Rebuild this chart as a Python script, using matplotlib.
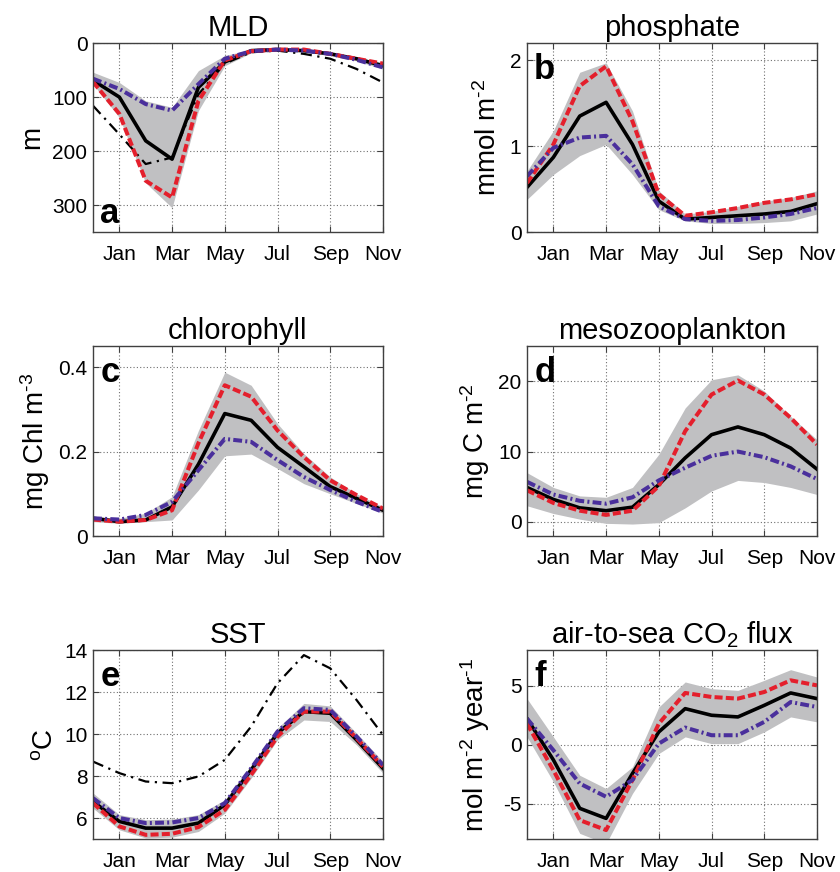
import numpy as np
import matplotlib
matplotlib.use('Agg')
import matplotlib.pyplot as plt

plt.rcParams['font.family'] = ['Liberation Sans', 'DejaVu Sans']
plt.rcParams['mathtext.fontset'] = 'custom'
plt.rcParams['mathtext.rm'] = 'Liberation Sans'
plt.rcParams['mathtext.it'] = 'Liberation Sans:italic'
plt.rcParams['axes.unicode_minus'] = False

# months run Dec .. Nov, ticks every second month
months = ['Dec', 'Jan', 'Feb', 'Mar', 'Apr', 'May', 'Jun', 'Jul', 'Aug', 'Sep', 'Oct', 'Nov']
tick_months = ['Jan', 'Mar', 'May', 'Jul', 'Sep', 'Nov']

# (a) mixed layer depth, m
mld_mean = [69, 100, 181, 215, 82, 35, 14, 12, 14, 20, 29, 42]
mld_high = [72, 131, 255, 286, 107, 32, 15, 12, 12, 20, 29, 38]
mld_low = [66, 85, 113, 125, 76, 29, 15, 12, 14, 20, 31, 45]
mld_lo_band = [54, 73, 107, 119, 51, 23, 12, 10, 10, 17, 26, 36]
mld_hi_band = [76, 138, 259, 305, 125, 42, 18, 15, 16, 23, 33, 48]
mld_obs = [116, 169, 224, 212, 95, 38, 17, 14, 20, 29, 48, 73]

# (b) phosphate, mmol m-2
po4_mean = [0.52, 0.87, 1.35, 1.51, 1.02, 0.36, 0.15, 0.17, 0.19, 0.21, 0.24, 0.33]
po4_high = [0.57, 1.02, 1.70, 1.93, 1.29, 0.44, 0.19, 0.23, 0.28, 0.34, 0.38, 0.44]
po4_low = [0.65, 0.98, 1.10, 1.12, 0.79, 0.30, 0.15, 0.13, 0.14, 0.17, 0.21, 0.28]
po4_lo_band = [0.38, 0.67, 0.89, 1.02, 0.67, 0.26, 0.13, 0.10, 0.10, 0.11, 0.13, 0.21]
po4_hi_band = [0.71, 1.18, 1.86, 1.97, 1.41, 0.48, 0.21, 0.24, 0.30, 0.36, 0.40, 0.48]

# (c) chlorophyll, mg Chl m-3
chl_mean = [0.042, 0.034, 0.038, 0.069, 0.17, 0.29, 0.274, 0.21, 0.164, 0.117, 0.089, 0.061]
chl_high = [0.039, 0.034, 0.038, 0.061, 0.22, 0.357, 0.33, 0.25, 0.187, 0.132, 0.097, 0.065]
chl_low = [0.042, 0.039, 0.050, 0.081, 0.156, 0.23, 0.223, 0.18, 0.14, 0.109, 0.081, 0.057]
chl_lo_band = [0.034, 0.030, 0.034, 0.038, 0.109, 0.19, 0.194, 0.16, 0.124, 0.10, 0.077, 0.054]
chl_hi_band = [0.046, 0.042, 0.054, 0.093, 0.25, 0.388, 0.357, 0.266, 0.195, 0.14, 0.10, 0.069]

# (d) mesozooplankton, mg C m-2
zoo_mean = [4.9, 3.2, 2.0, 1.6, 2.1, 5.3, 9.1, 12.4, 13.5, 12.4, 10.5, 7.5]
zoo_high = [4.5, 2.7, 1.6, 1.0, 1.6, 5.1, 12.9, 18.1, 20.1, 18.1, 14.8, 11.0]
zoo_low = [5.7, 3.9, 3.0, 2.6, 3.5, 5.9, 7.7, 9.4, 10.0, 9.2, 7.9, 6.1]
zoo_lo_band = [2.3, 1.2, 0.4, -0.2, -0.3, -0.1, 2.0, 4.4, 5.9, 5.6, 4.9, 3.9]
zoo_hi_band = [7.0, 4.9, 3.7, 3.5, 4.9, 9.6, 16.2, 20.2, 20.9, 18.6, 15.0, 11.7]

# (e) sea surface temperature, degC
sst_mean = [6.79, 5.84, 5.52, 5.52, 5.76, 6.63, 8.29, 10.04, 11.07, 10.99, 9.72, 8.37]
sst_high = [6.71, 5.60, 5.20, 5.25, 5.57, 6.39, 8.06, 9.88, 11.07, 11.07, 9.80, 8.45]
sst_low = [6.95, 6.00, 5.76, 5.79, 6.00, 6.71, 8.37, 10.12, 11.23, 11.15, 9.88, 8.53]
sst_lo_band = [6.47, 5.44, 5.05, 5.09, 5.36, 6.23, 7.90, 9.72, 10.67, 10.60, 9.48, 8.14]
sst_hi_band = [7.19, 6.16, 5.92, 5.95, 6.16, 6.87, 8.53, 10.28, 11.46, 11.34, 10.04, 8.69]
sst_obs = [8.69, 8.14, 7.74, 7.66, 7.98, 8.77, 10.36, 12.42, 13.76, 13.13, 11.62, 9.96]

# (f) air-to-sea CO2 flux, mol m-2 year-1
co2_mean = [2.2, -1.3, -5.4, -6.25, -2.45, 1.07, 3.04, 2.48, 2.34, 3.32, 4.37, 3.89]
co2_high = [1.77, -2.17, -6.4, -7.24, -3.0, 1.77, 4.37, 4.03, 3.89, 4.45, 5.44, 5.01]
co2_low = [2.2, -0.48, -3.3, -4.42, -3.0, 0.08, 1.44, 0.79, 0.79, 1.92, 3.6, 3.18]
co2_lo_band = [0.65, -3.15, -7.52, -8.4, -4.14, -0.76, 0.65, 0.08, 0.08, 1.07, 2.34, 1.92]
co2_hi_band = [3.89, 0.65, -2.6, -3.72, -1.89, 3.18, 5.3, 4.73, 4.59, 5.44, 6.34, 5.72]

RED = '#e41f2c'
BLUE = '#4a2f9c'
BAND = '#c0c0c2'


def sup(s):
    # raised text with a plain hyphen rather than a math minus
    return '$^{\\text{%s}}$' % s


panels = [
    dict(letter='a', title='MLD', ylabel='m', mean=mld_mean, high=mld_high, low=mld_low,
         band=(mld_lo_band, mld_hi_band), obs=mld_obs, ylim=(350, 0), yticks=[0, 100, 200, 300],
         letter_pos='bottom', label_x=-0.165),
    dict(letter='b', title='phosphate', ylabel='mmol m' + sup('-2'), mean=po4_mean, high=po4_high,
         low=po4_low, band=(po4_lo_band, po4_hi_band), obs=None, ylim=(0, 2.2), yticks=[0, 1, 2],
         letter_pos='top', label_x=-0.085),
    dict(letter='c', title='chlorophyll', ylabel='mg Chl m' + sup('-3'), mean=chl_mean, high=chl_high,
         low=chl_low, band=(chl_lo_band, chl_hi_band), obs=None, ylim=(0, 0.45), yticks=[0, 0.2, 0.4],
         letter_pos='top', label_x=-0.14),
    dict(letter='d', title='mesozooplankton', ylabel='mg C m' + sup('-2'), mean=zoo_mean, high=zoo_high,
         low=zoo_low, band=(zoo_lo_band, zoo_hi_band), obs=None, ylim=(-2, 25), yticks=[0, 10, 20],
         letter_pos='top', label_x=-0.12),
    dict(letter='e', title='SST', ylabel=sup('o') + 'C', mean=sst_mean, high=sst_high,
         low=sst_low, band=(sst_lo_band, sst_hi_band), obs=sst_obs, ylim=(5, 14), yticks=[6, 8, 10, 12, 14],
         letter_pos='top', label_x=-0.12),
    dict(letter='f', title='air-to-sea CO$_{\\text{2}}$ flux',
         ylabel='mol m' + sup('-2') + ' year' + sup('-1'), mean=co2_mean, high=co2_high,
         low=co2_low, band=(co2_lo_band, co2_hi_band), obs=None, ylim=(-8, 8), yticks=[-5, 0, 5],
         letter_pos='top', label_x=-0.12),
]

fig = plt.figure(figsize=(8.4, 8.72), dpi=100)
lefts = [0.1107, 0.6274]
bottoms = [0.7339, 0.3853, 0.0378]
heights = [0.2167, 0.2179, 0.2167]
x = np.arange(len(months))

for k, p in enumerate(panels):
    row, col = divmod(k, 2)
    ax = fig.add_axes([lefts[col], bottoms[row], 0.3452, heights[row]])
    ax.fill_between(x, p['band'][0], p['band'][1], color=BAND, lw=0, zorder=1)
    if p['obs'] is not None:
        ax.plot(x, p['obs'], color='black', lw=1.6, ls=(0, (5, 2.5, 1, 2.5)), zorder=3)
    ax.plot(x, p['mean'], color='black', lw=2.6, ls='-', zorder=4)
    ax.plot(x, p['high'], color=RED, lw=2.9, ls=(0, (2.0, 0.8)), zorder=5)
    ax.plot(x, p['low'], color=BLUE, lw=2.9, ls=(0, (2.2, 0.8, 0.5, 0.8)), zorder=6)

    ax.set_xlim(0, 11)
    ax.set_ylim(*p['ylim'])
    ax.set_xticks([months.index(m) for m in tick_months])
    ax.set_xticklabels(tick_months)
    ax.set_yticks(p['yticks'])
    ax.set_yticklabels(['%g' % v for v in p['yticks']])
    ax.grid(True, ls=(0, (1, 2)), color='#707070', lw=0.8, zorder=0)
    ax.set_axisbelow(True)
    ax.tick_params(direction='in', length=4, width=0.8, top=True, right=True,
                   labelsize=15, color='#404040')
    ax.tick_params(axis='x', pad=9)
    ax.tick_params(axis='y', pad=4)
    for s in ax.spines.values():
        s.set_color('#404040')
        s.set_linewidth(1.0)
        s.set_zorder(7)

    ax.set_title(p['title'], fontsize=21, pad=5)
    ax.set_ylabel(p['ylabel'], fontsize=20)
    ax.yaxis.set_label_coords(p['label_x'], 0.5)

    if p['letter_pos'] == 'top':
        ax.text(0.025, 0.95, p['letter'], transform=ax.transAxes, fontsize=25,
                fontweight='bold', va='top', ha='left', zorder=8)
    else:
        ax.text(0.025, 0.01, p['letter'], transform=ax.transAxes, fontsize=25,
                fontweight='bold', va='bottom', ha='left', zorder=8)

fig.savefig('out.png', dpi=100)
